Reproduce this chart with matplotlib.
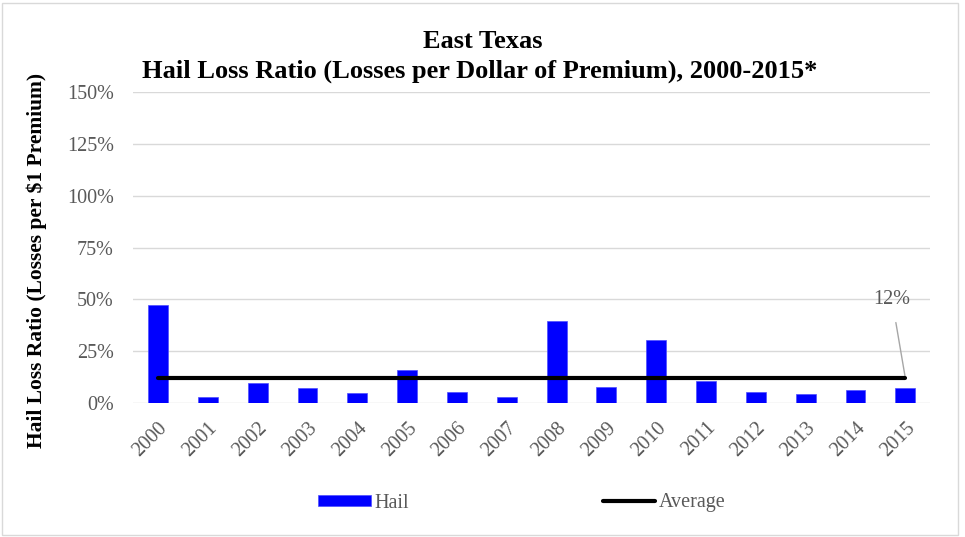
import matplotlib.pyplot as plt
from matplotlib.ticker import PercentFormatter
from matplotlib.patches import Rectangle

years = [str(y) for y in range(2000, 2016)]
hail = [0.473, 0.030, 0.095, 0.074, 0.050, 0.159, 0.053, 0.030,
        0.394, 0.079, 0.302, 0.106, 0.052, 0.042, 0.063, 0.074]
average = 0.12
y_ticks = [0, 0.25, 0.5, 0.75, 1.0, 1.25, 1.5]

plt.rcParams['font.family'] = ['Liberation Serif', 'DejaVu Serif']
gray = '#595959'

fig = plt.figure(figsize=(9.65, 5.37), dpi=100)
ax = fig.add_axes([0.138, 0.2495, 0.826, 0.5792])

x = list(range(len(years)))
bars = ax.bar(x, hail, width=0.4, color='#0000ff', edgecolor='#4d4dff', linewidth=0.5, zorder=3, label='Hail')
avg_line, = ax.plot([x[0], x[-1]], [average, average], color='black', linewidth=3,
                    solid_capstyle='round', zorder=4, label='Average')

ax.annotate(f'{average:.0%}', xy=(x[-1], average), xytext=(x[-1] - 0.27, 0.50),
            fontsize=14.5, color=gray, ha='center', va='center',
            arrowprops=dict(arrowstyle='-', color='#a6a6a6', lw=1, shrinkA=8, shrinkB=0))

ax.set_xlim(-0.5, len(years) - 0.5)
ax.set_ylim(0, 1.5)
ax.set_yticks(y_ticks)
ax.yaxis.set_major_formatter(PercentFormatter(1.0, decimals=0))
ax.set_xticks(x)
ax.set_xticklabels(years, rotation=45, ha='right', va='top', rotation_mode='anchor')
ax.tick_params(axis='both', length=0, labelsize=14.5, labelcolor=gray)
ax.tick_params(axis='x', pad=11)
ax.tick_params(axis='y', pad=14)
ax.grid(axis='y', color='#d9d9d9', linewidth=1, zorder=0)
for s in ax.spines.values():
    s.set_visible(False)

fig.text(37 / 965, 1 - 260 / 537, 'Hail Loss Ratio (Losses per \\$1 Premium)', rotation=90,
         ha='center', va='center', fontsize=15.5, fontweight='bold')

fig.text(483 / 965, 1 - 42 / 537, 'East Texas', ha='center', va='center', fontsize=19, fontweight='bold')
fig.text(480 / 965, 1 - 71 / 537, 'Hail Loss Ratio (Losses per Dollar of Premium), 2000-2015*',
         ha='center', va='center', fontsize=19, fontweight='bold')

fig.legend(handles=[bars, avg_line], loc='center', bbox_to_anchor=(522 / 965, 1 - 503 / 537), ncol=2,
           frameon=False, fontsize=14.5, labelcolor=gray, handlelength=2.6, handleheight=0.5,
           columnspacing=9.6, handletextpad=0.2)

fig.add_artist(Rectangle((0.002, 0.003), 0.991, 0.991, transform=fig.transFigure,
                         fill=False, edgecolor='#d9d9d9', linewidth=1))

fig.savefig('out.png', dpi=100)
